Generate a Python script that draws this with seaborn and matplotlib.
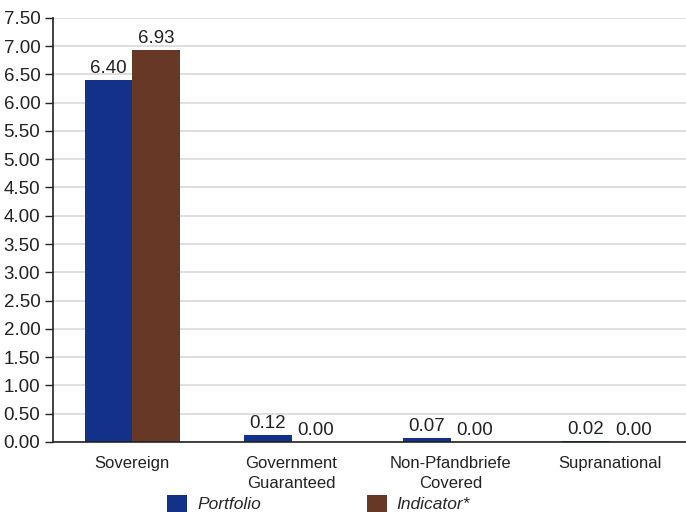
import matplotlib
matplotlib.use("Agg")
import matplotlib.pyplot as plt
import seaborn as sns
import pandas as pd
import numpy as np
from matplotlib.patches import Patch

categories = ["Sovereign", "Government\nGuaranteed", "Non-Pfandbriefe\nCovered", "Supranational"]
portfolio = [6.40, 0.12, 0.07, 0.02]
indicator = [6.93, 0.00, 0.00, 0.00]
series_names = ["Portfolio", "Indicator*"]
colors = ["#14318A", "#673826"]
y_ticks = np.arange(0, 7.51, 0.5)

df = pd.DataFrame({
    "category": categories * 2,
    "series": [series_names[0]] * 4 + [series_names[1]] * 4,
    "value": portfolio + indicator,
})

sns.set_style("white")
plt.rcParams["font.family"] = ["Liberation Sans", "DejaVu Sans"]

fig = plt.figure(figsize=(6.86, 5.12), dpi=100)
ax = fig.add_axes([0.077, 0.137, 0.928, 0.828])

sns.barplot(data=df, x="category", y="value", hue="series", palette=colors,
            width=0.6, saturation=1, ax=ax, legend=False, errorbar=None,
            linewidth=0, edgecolor="none")

for cont in ax.containers:
    ax.bar_label(cont, fmt="%.2f", padding=2, fontsize=13.5, color="#222222")

ax.set_ylim(0, 7.5)
ax.set_xlim(-0.5, 3.5)
ax.set_yticks(y_ticks)
ax.set_yticklabels([f"{v:.2f}" for v in y_ticks], fontsize=13.5, color="#222222")
ax.yaxis.grid(True, color="#d9d9d9", linewidth=1.2)
ax.set_axisbelow(True)
ax.set_xlabel("")
ax.set_ylabel("")
ax.tick_params(axis="x", which="major", length=0, labelsize=12, colors="#222222", pad=10)
for lbl in ax.get_xticklabels():
    lbl.set_linespacing(1.4)
ax.set_xticks([0.5, 1.5, 2.5], minor=True)
ax.tick_params(axis="x", which="minor", length=6, width=1, color="#222222", direction="out")
ax.tick_params(axis="y", length=6, width=1, color="#222222", direction="out", left=True, pad=3)
for s in ["top", "right"]:
    ax.spines[s].set_visible(False)
for s in ["left", "bottom"]:
    ax.spines[s].set_color("#222222")
    ax.spines[s].set_linewidth(1.2)

handles = [Patch(facecolor=c, edgecolor="none") for c in colors]
leg = fig.legend(handles, series_names, loc="lower left", bbox_to_anchor=(157 / 686, -0.021),
                 ncol=2, frameon=False, borderpad=0.1, handlelength=1.15, handleheight=1.1,
                 handletextpad=0.57, columnspacing=6.1,
                 prop={"style": "italic", "size": 12.5})

fig.savefig("out.png", dpi=100)
